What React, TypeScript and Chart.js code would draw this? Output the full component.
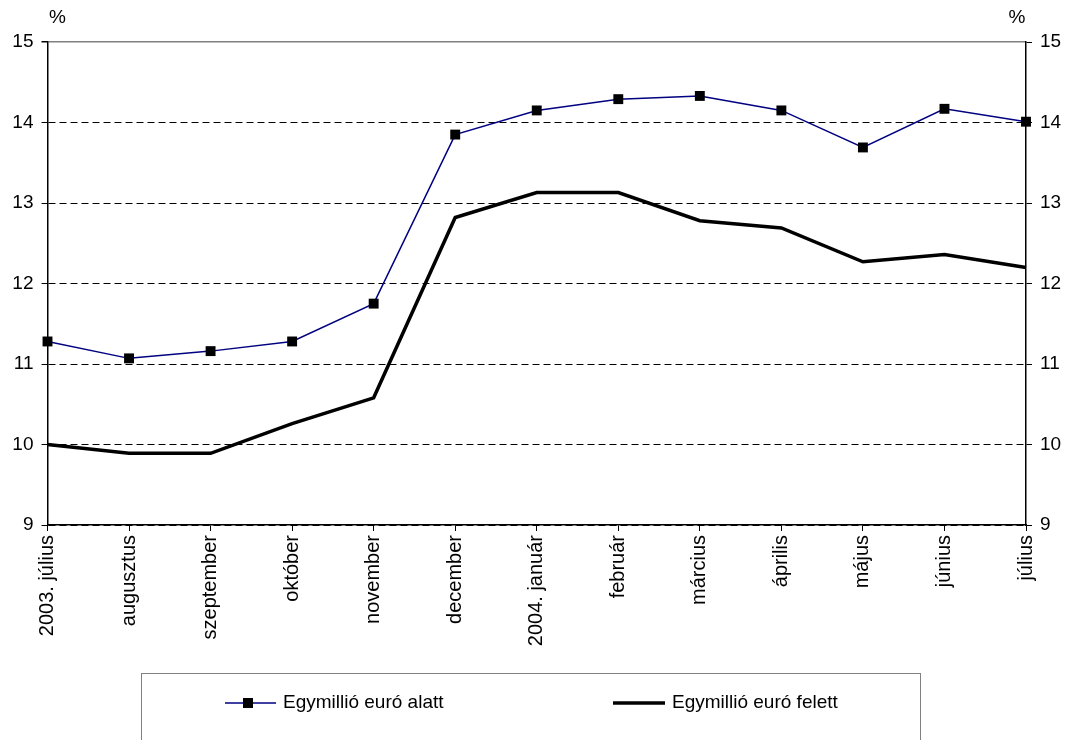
import React, { useEffect, useRef } from "react";
import { Chart, registerables } from "chart.js";

Chart.register(...registerables);

const categories = [
  "2003. július",
  "augusztus",
  "szeptember",
  "október",
  "november",
  "december",
  "2004. január",
  "február",
  "március",
  "április",
  "május",
  "június",
  "július",
];

const seriesBelowName = "Egymillió euró alatt";
const seriesBelow = [11.28, 11.07, 11.16, 11.28, 11.75, 13.85, 14.15, 14.29, 14.33, 14.15, 13.69, 14.17, 14.01];

const seriesAboveName = "Egymillió euró felett";
const seriesAbove = [10.0, 9.89, 9.89, 10.26, 10.58, 12.82, 13.13, 13.13, 12.78, 12.69, 12.27, 12.36, 12.2];

const yMin = 9;
const yMax = 15;
const yStep = 1;
const unitLabel = "%";

const FONT = "'Liberation Sans', Arial, Helvetica, sans-serif";
const NAVY = "#000080";

const overlayPlugin = {
  id: "overlayLegend",
  afterDraw(chart: any) {
    const ctx = chart.ctx;
    const area = chart.chartArea;
    ctx.save();
    // unit labels above both axes
    ctx.fillStyle = "#000";
    ctx.font = `19px ${FONT}`;
    ctx.textAlign = "center";
    ctx.textBaseline = "middle";
    ctx.fillText(unitLabel, area.left + 10, 18);
    ctx.fillText(unitLabel, area.right - 9, 18);

    // legend box
    const boxLeft = 141.5;
    const boxTop = 673.5;
    const boxRight = 920.5;
    ctx.strokeStyle = "#808080";
    ctx.lineWidth = 1;
    ctx.strokeRect(boxLeft, boxTop, boxRight - boxLeft, 120);

    const ly = 703;
    const ds = chart.data.datasets;
    // item 1
    ctx.strokeStyle = NAVY;
    ctx.lineWidth = 1.5;
    ctx.beginPath();
    ctx.moveTo(225, ly);
    ctx.lineTo(276, ly);
    ctx.stroke();
    ctx.fillStyle = "#000";
    ctx.fillRect(248 - 5, ly - 5, 10, 10);
    ctx.font = `19px ${FONT}`;
    ctx.textAlign = "left";
    ctx.textBaseline = "middle";
    ctx.fillText(ds[0].label, 283, ly);
    // item 2
    ctx.strokeStyle = "#000";
    ctx.lineWidth = 3.5;
    ctx.beginPath();
    ctx.moveTo(613, ly);
    ctx.lineTo(665, ly);
    ctx.stroke();
    ctx.fillText(ds[1].label, 672, ly);
    ctx.restore();
  },
};

export default function App() {
  const canvasRef = useRef<HTMLCanvasElement | null>(null);

  useEffect(() => {
    document.body.style.margin = "0";
    const canvas = canvasRef.current;
    if (!canvas) return;
    Chart.defaults.font.family = FONT;
    Chart.defaults.color = "#000";

    const yTicks = {
      stepSize: yStep,
      color: "#000",
      font: { size: 19 },
      padding: 8,
    };

    const chart = new Chart(canvas, {
      type: "line",
      data: {
        labels: categories,
        datasets: [
          {
            label: seriesBelowName,
            data: seriesBelow,
            borderColor: NAVY,
            borderWidth: 1.5,
            pointStyle: "rect",
            pointRadius: 7,
            pointBackgroundColor: "#000",
            pointBorderColor: "#000",
            pointBorderWidth: 0,
            tension: 0,
            clip: false,
            order: 0,
          },
          {
            label: seriesAboveName,
            data: seriesAbove,
            borderColor: "#000",
            borderWidth: 3.5,
            pointRadius: 0,
            tension: 0,
            clip: false,
            order: 1,
          },
        ],
      },
      options: {
        responsive: false,
        animation: false,
        layout: { padding: { top: 42, bottom: 85, left: 0, right: 0 } },
        plugins: {
          legend: { display: false },
          tooltip: { enabled: false },
        },
        scales: {
          x: {
            type: "category",
            offset: false,
            grid: {
              drawOnChartArea: false,
              drawTicks: true,
              tickLength: 6,
              color: "#000",
              lineWidth: 1,
            },
            border: { display: true, color: "#000", width: 1.5 },
            ticks: {
              autoSkip: false,
              maxRotation: 90,
              minRotation: 90,
              color: "#000",
              font: { size: 20 },
              padding: 4,
            },
            afterFit: (s: any) => {
              s.height = 130;
            },
          },
          y: {
            position: "left",
            min: yMin,
            max: yMax,
            ticks: yTicks,
            grid: {
              drawTicks: true,
              tickLength: 6,
              tickColor: "#000",
              tickBorderDash: [],
              color: (c: any) => (c.tick && c.tick.value === yMax ? "#808080" : "#000"),
              lineWidth: (c: any) => (c.tick && c.tick.value === yMax ? 1.5 : 1),
            },
            border: {
              display: true,
              color: "#000",
              width: 1.5,
              dash: (c: any) => (c.tick && c.tick.value === yMax ? [] : [7, 4]),
            },
            afterFit: (s: any) => {
              s.width = 47.5;
            },
          },
          y2: {
            position: "right",
            min: yMin,
            max: yMax,
            ticks: yTicks,
            grid: {
              drawOnChartArea: false,
              drawTicks: true,
              tickLength: 6,
              color: "#000",
            },
            border: { display: true, color: "#000", width: 1.5 },
            afterFit: (s: any) => {
              s.width = 44;
            },
          },
        },
      },
      plugins: [overlayPlugin],
    } as any);

    return () => {
      chart.destroy();
    };
  }, []);

  return (
    <div style={{ width: 1070, height: 740, position: "relative", background: "#fff" }}>
      <canvas ref={canvasRef} width={1070} height={740} />
    </div>
  );
}
